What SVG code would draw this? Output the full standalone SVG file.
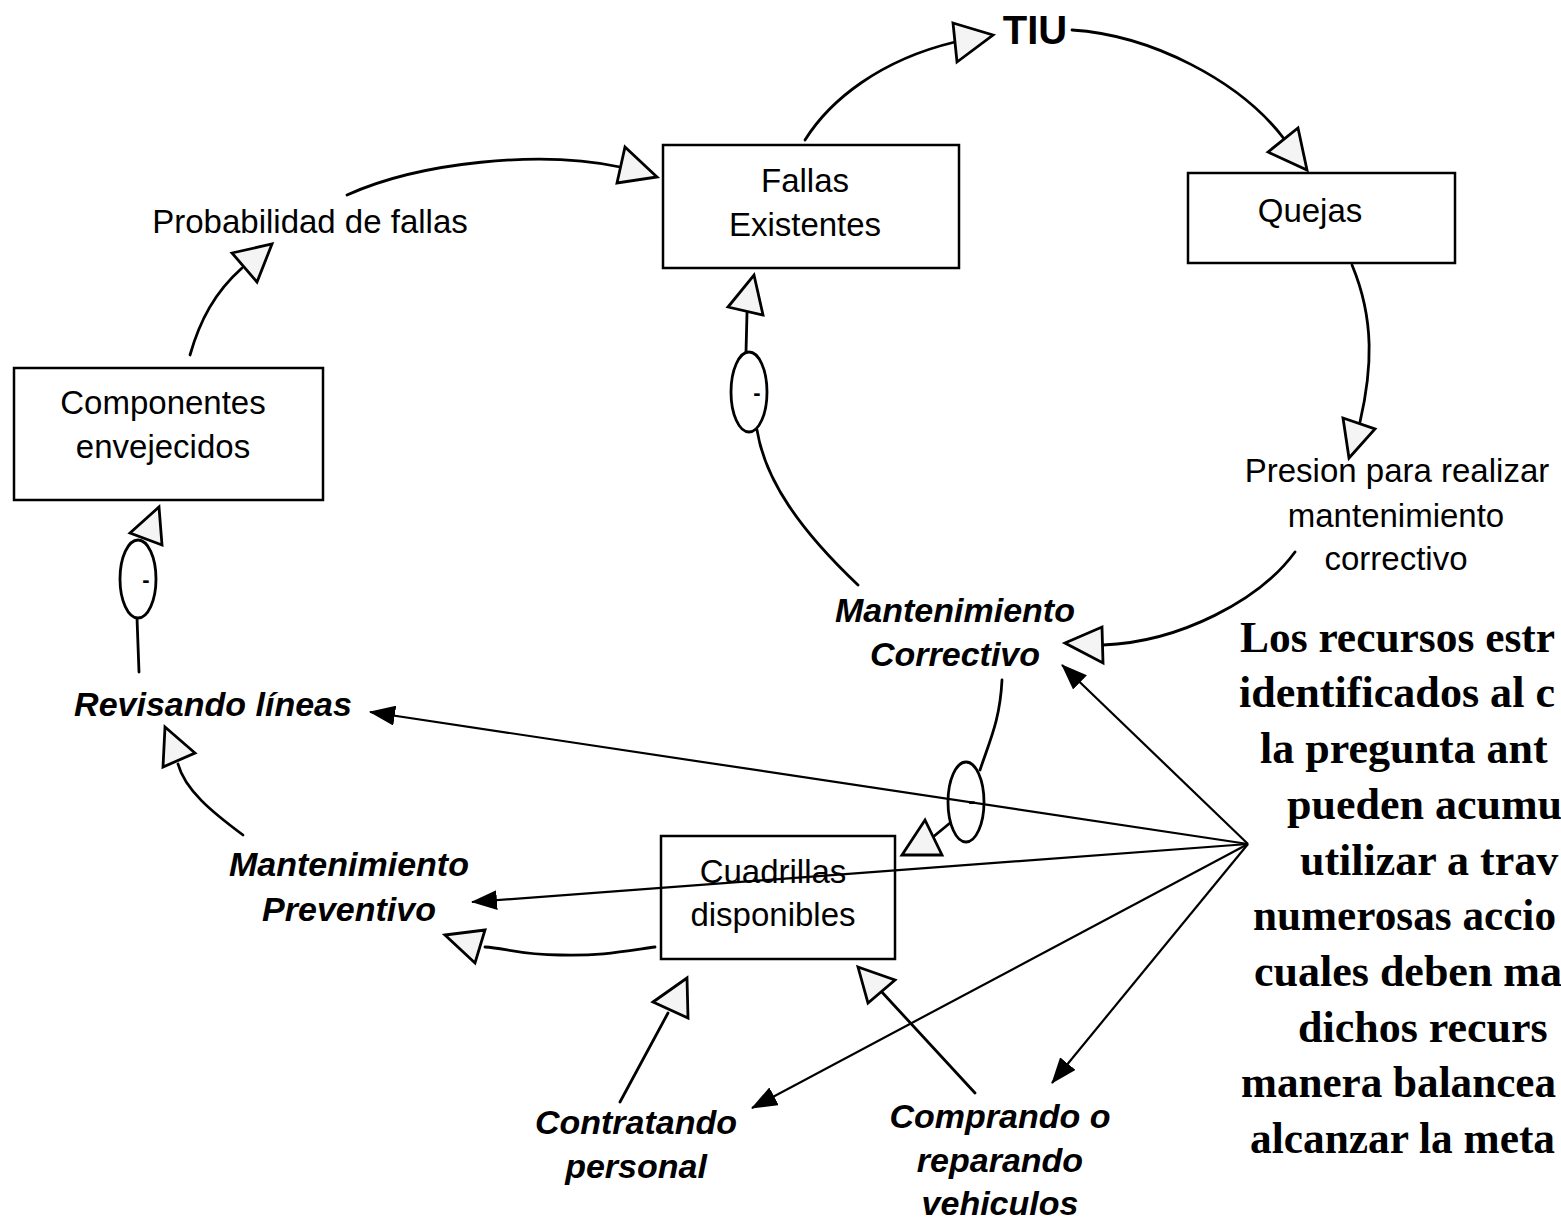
<svg xmlns="http://www.w3.org/2000/svg" width="1561" height="1220" viewBox="0 0 1561 1220">
<defs>
<style>
.box{fill:#fff;stroke:#000;stroke-width:2.5}
.lbl{font-family:"Liberation Sans",Arial,sans-serif;font-size:33px;fill:#000;text-anchor:middle}
.act{font-family:"Liberation Sans",Arial,sans-serif;font-size:34px;font-weight:bold;font-style:italic;fill:#000;text-anchor:middle}
.note{font-family:"Liberation Serif","Times New Roman",serif;font-size:44px;font-weight:bold;fill:#000}
.ln{fill:none;stroke:#000;stroke-width:2.8;stroke-linecap:round}
.thin{fill:none;stroke:#000;stroke-width:2.2}
.tri{fill:#f4f4f4;stroke:#000;stroke-width:2.8;stroke-linejoin:miter}
.ell{fill:#fff;stroke:#000;stroke-width:2.8}
.minus{font-family:"Liberation Sans",Arial,sans-serif;font-size:22px;font-weight:bold;fill:#000;text-anchor:middle}
</style>
<marker id="ah" viewBox="0 0 26 20" refX="25" refY="10" markerWidth="26" markerHeight="20" markerUnits="userSpaceOnUse" orient="auto">
<path d="M0,0 L26,10 L0,20 z" fill="#000"/>
</marker>
</defs>
<rect width="1561" height="1220" fill="#fff"/>

<g id="connectors">
<path class="ln" d="M347,195 C420,162 540,150 620,167"/>
<polygon class="tri" points="625,147 657,177 617,183"/>
<path class="ln" d="M805,140 C830,100 880,60 955,42"/>
<polygon class="tri" points="953,23 993,35 957,62"/>
<path class="ln" d="M1072,30 C1150,35 1240,80 1285,140"/>
<polygon class="tri" points="1268,152 1298,128 1307,170"/>
<path class="ln" d="M1352,265 C1375,320 1372,370 1360,422"/>
<polygon class="tri" points="1343,418 1375,429 1349,458"/>
<path class="ln" d="M1295,552 C1260,600 1180,642 1103,645"/>
<polygon class="tri" points="1065,643 1102,627 1103,663"/>
<path class="ln" d="M858,585 C800,530 765,480 757,430"/>
<path class="ln" d="M746,352 L747,313"/>
<ellipse class="ell" cx="749" cy="392" rx="18" ry="40"/>
<text class="minus" x="757" y="400">-</text>
<polygon class="tri" points="728,307 754,275 763,315"/>
<path class="ln" d="M139,672 L137,618"/>
<ellipse class="ell" cx="138" cy="579" rx="18" ry="39"/>
<text class="minus" x="146" y="587">-</text>
<polygon class="tri" points="130,533 159,507 162,545"/>
<path class="ln" d="M190,355 C200,320 215,292 242,268"/>
<polygon class="tri" points="232,253 272,244 257,282"/>
<path class="ln" d="M243,835 C212,812 185,790 178,764"/>
<polygon class="tri" points="165,727 195,753 163,767"/>
<path class="ln" d="M655,947 C620,952 600,956 560,955 C520,955 505,948 485,947"/>
<polygon class="tri" points="445,935 485,930 475,963"/>
<path class="ln" d="M620,1102 L668,1013"/>
<polygon class="tri" points="653,1002 687,978 688,1018"/>
<path class="ln" d="M975,1093 L880,990"/>
<polygon class="tri" points="858,967 895,980 868,1003"/>
<path class="ln" d="M1002,680 C1000,720 990,740 980,770"/>
<path class="ln" d="M950,823 L933,837"/>
<polygon class="tri" points="902,855 925,820 942,855"/>
<path class="thin" d="M1248,844 L1062,665" marker-end="url(#ah)"/>
<path class="thin" d="M1248,844 L370,712" marker-end="url(#ah)"/>
<path class="thin" d="M1248,844 L472,902" marker-end="url(#ah)"/>
<path class="thin" d="M1248,844 L752,1108" marker-end="url(#ah)"/>
<path class="thin" d="M1248,844 L1052,1083" marker-end="url(#ah)"/>
<ellipse cx="966" cy="802" rx="18" ry="40" fill="none" stroke="#000" stroke-width="2.8"/>
<text class="minus" x="972" y="808">-</text>
</g>

<g id="fallas">
<rect class="box" x="663" y="145" width="296" height="123"/>
<text class="lbl" x="805" y="192">Fallas</text>
<text class="lbl" x="805" y="236">Existentes</text>
</g>
<g id="tiu">
<text x="1035" y="44" font-family="Liberation Sans,Arial,sans-serif" font-size="40" font-weight="bold" text-anchor="middle">TIU</text>
</g>
<g id="quejas">
<rect class="box" x="1188" y="173" width="267" height="90"/>
<text class="lbl" x="1310" y="222">Quejas</text>
</g>
<g id="probabilidad">
<text class="lbl" x="310" y="233">Probabilidad de fallas</text>
</g>
<g id="componentes">
<rect class="box" x="14" y="368" width="309" height="132"/>
<text class="lbl" x="163" y="414">Componentes</text>
<text class="lbl" x="163" y="458">envejecidos</text>
</g>
<g id="presion">
<text class="lbl" x="1397" y="482">Presion para realizar</text>
<text class="lbl" x="1396" y="527">mantenimiento</text>
<text class="lbl" x="1396" y="570">correctivo</text>
</g>
<g id="mant-correctivo">
<text class="act" x="955" y="622">Mantenimiento</text>
<text class="act" x="955" y="666">Correctivo</text>
</g>
<g id="revisando">
<text class="act" x="213" y="716">Revisando líneas</text>
</g>
<g id="mant-preventivo">
<text class="act" x="349" y="876">Mantenimiento</text>
<text class="act" x="349" y="921">Preventivo</text>
</g>
<g id="cuadrillas">
<rect class="box" x="661" y="836" width="234" height="123" fill-opacity="0"/>
<text class="lbl" x="773" y="883">Cuadrillas</text>
<text class="lbl" x="773" y="926">disponibles</text>
</g>
<g id="contratando">
<text class="act" x="636" y="1134">Contratando</text>
<text class="act" x="636" y="1178">personal</text>
</g>
<g id="comprando">
<text class="act" x="1000" y="1128">Comprando o</text>
<text class="act" x="1000" y="1172">reparando</text>
<text class="act" x="1000" y="1215">vehiculos</text>
</g>
<g id="nota">
<text class="note" x="1240" y="652" textLength="315" lengthAdjust="spacingAndGlyphs">Los recursos estr</text>
<text class="note" x="1239" y="707" textLength="316" lengthAdjust="spacingAndGlyphs">identificados al c</text>
<text class="note" x="1260" y="763">la pregunta ant</text>
<text class="note" x="1287" y="819" font-size="40.5">pueden acumu</text>
<text class="note" x="1300" y="875">utilizar a trav</text>
<text class="note" x="1253" y="930" textLength="303" lengthAdjust="spacingAndGlyphs">numerosas accio</text>
<text class="note" x="1254" y="986" font-size="40.5">cuales deben ma</text>
<text class="note" x="1298" y="1042">dichos recurs</text>
<text class="note" x="1241" y="1097" textLength="315" lengthAdjust="spacingAndGlyphs">manera balancea</text>
<text class="note" x="1250" y="1153" textLength="305" lengthAdjust="spacingAndGlyphs">alcanzar la meta</text>
</g>
</svg>
